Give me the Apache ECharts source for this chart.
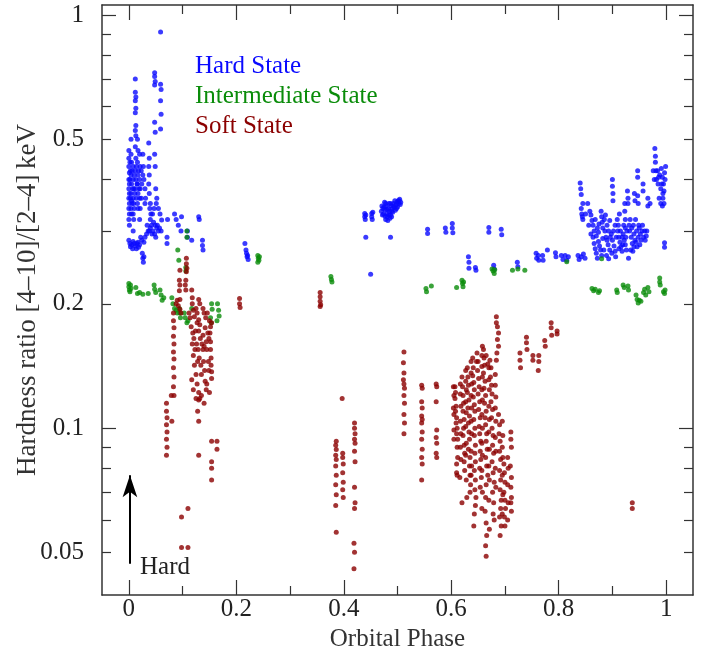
<!DOCTYPE html>
<html>
<head>
<meta charset="utf-8">
<script src="https://cdn.jsdelivr.net/npm/echarts@6/dist/echarts.min.js"></script>
<style>
html, body { margin: 0; padding: 0; background: #fff; }
#chart { width: 711px; height: 655px; }
</style>
</head>
<body>
<div id="chart"></div>
<script>
// hardness ratio vs orbital phase, three spectral states
var hardState = [
  [0.000,0.47],[0.000,0.45],[0.000,0.43],[0.001,0.415],[0.000,0.40],[0.001,0.39],[0.000,0.38],[0.001,0.37],[0.000,0.36],[0.001,0.35],[0.000,0.34],[0.001,0.33],[0.000,0.32],[0.001,0.31],
  [0.004,0.50],[0.004,0.46],[0.005,0.44],[0.004,0.41],[0.005,0.39],[0.004,0.37],[0.005,0.355],[0.004,0.34],[0.005,0.33],
  [0.008,0.43],[0.008,0.40],[0.009,0.38],[0.008,0.36],[0.009,0.35],[0.008,0.33],[0.009,0.32],[0.008,0.30],
  [0.012,0.70],[0.012,0.65],[0.013,0.633],[0.012,0.62],[0.013,0.595],[0.012,0.58],[0.013,0.54],[0.012,0.525],[0.013,0.51],[0.012,0.48],[0.013,0.45],[0.012,0.42],[0.013,0.40],[0.012,0.38],
  [0.016,0.50],[0.017,0.47],[0.016,0.44],[0.017,0.41],[0.016,0.39],[0.017,0.37],[0.016,0.35],[0.017,0.34],
  [0.020,0.46],[0.021,0.43],[0.020,0.40],[0.021,0.38],[0.020,0.36],[0.021,0.34],[0.020,0.32],
  [0.002,0.44],[0.003,0.42],[0.002,0.40],[0.003,0.36],[0.006,0.42],[0.007,0.38],[0.006,0.35],[0.010,0.41],[0.011,0.37],[0.010,0.34],[0.014,0.43],[0.015,0.39],[0.014,0.36],[0.018,0.42],[0.019,0.38],[0.023,0.42],[0.024,0.39],[0.023,0.36],
  [0.000,0.285],[0.002,0.280],[0.005,0.278],[0.008,0.283],[0.012,0.276],[0.015,0.280],[0.018,0.274],[0.024,0.285],[0.028,0.282],[0.030,0.290],[0.033,0.295],[0.036,0.300],[0.040,0.305],[0.042,0.310],[0.045,0.300],[0.048,0.295],[0.050,0.290],[0.052,0.305],[0.055,0.300],
  [0.003,0.275],[0.007,0.272],[0.010,0.280],[0.014,0.272],[0.017,0.282],[0.020,0.278],[0.022,0.290],[0.034,0.310],[0.038,0.300],[0.043,0.295],[0.046,0.315],[0.049,0.310],[0.053,0.310],[0.057,0.305],[0.044,0.330],[0.047,0.340],[0.051,0.350],
  [0.025,0.265],[0.026,0.258],[0.027,0.252],[0.028,0.260],
  [0.026,0.46],[0.027,0.43],[0.026,0.41],[0.028,0.40],[0.030,0.38],[0.031,0.36],[0.030,0.35],
  [0.037,0.49],[0.038,0.45],[0.037,0.43],[0.038,0.41],[0.037,0.39],[0.038,0.37],[0.040,0.35],[0.039,0.34],[0.041,0.33],[0.040,0.32],
  [0.048,0.725],[0.048,0.71],[0.049,0.69],[0.048,0.677],[0.048,0.55],[0.049,0.52],[0.048,0.46],[0.049,0.43],
  [0.059,0.91],[0.059,0.68],[0.060,0.66],[0.059,0.62],[0.060,0.575],[0.059,0.53],
  [0.050,0.38],[0.052,0.36],[0.055,0.34],[0.058,0.33],[0.060,0.30],
  [0.061,0.319],[0.072,0.32],[0.071,0.29],[0.071,0.28],[0.085,0.33],[0.088,0.32],[0.092,0.31],[0.097,0.30],[0.098,0.325],[0.109,0.30],[0.109,0.29],[0.117,0.285],[0.130,0.325],[0.131,0.32],[0.137,0.285],[0.137,0.277],[0.138,0.27],
  [0.216,0.28],[0.218,0.27],[0.219,0.265],[0.220,0.26],[0.222,0.256],[0.221,0.262],
  [0.439,0.331],[0.439,0.325],[0.440,0.32],[0.441,0.328],[0.452,0.331],[0.452,0.325],[0.453,0.32],[0.454,0.333],[0.441,0.29],[0.450,0.236],[0.487,0.29],
  [0.470,0.335],[0.471,0.345],[0.473,0.34],[0.474,0.33],[0.476,0.352],[0.477,0.338],[0.479,0.345],[0.480,0.33],[0.481,0.325],[0.483,0.34],[0.484,0.35],[0.485,0.335],[0.487,0.328],[0.488,0.345],[0.490,0.34],[0.491,0.333],[0.492,0.35],[0.494,0.342],[0.496,0.337],[0.497,0.347],[0.499,0.352],[0.500,0.343],[0.502,0.35],[0.503,0.355],[0.505,0.348],[0.478,0.32],[0.482,0.318],[0.486,0.322],
  [0.472,0.328],[0.475,0.343],[0.478,0.35],[0.481,0.338],[0.484,0.328],[0.487,0.35],[0.489,0.335],[0.493,0.345],[0.495,0.355],[0.498,0.34],[0.501,0.355],[0.504,0.358],[0.506,0.352],[0.477,0.326],[0.489,0.325],
  [0.556,0.303],[0.556,0.296],[0.589,0.305],[0.590,0.298],[0.602,0.313],[0.602,0.305],[0.603,0.297],[0.670,0.306],[0.670,0.298],[0.693,0.303],[0.694,0.294],
  [0.632,0.26],[0.633,0.252],[0.633,0.244],[0.645,0.245],[0.646,0.241],[0.679,0.248],[0.680,0.243],[0.723,0.252],[0.724,0.246],
  [0.758,0.265],[0.759,0.258],[0.762,0.262],[0.763,0.255],[0.770,0.262],[0.771,0.255],[0.779,0.27],[0.794,0.266],[0.795,0.26],[0.805,0.262],[0.808,0.256],[0.812,0.262],[0.815,0.255],[0.818,0.26],
  [0.836,0.262],[0.838,0.256],[0.842,0.26],[0.846,0.264],[0.849,0.258],
  [0.840,0.392],[0.841,0.38],[0.842,0.368],[0.843,0.33],[0.844,0.325],[0.845,0.32],[0.842,0.34],[0.854,0.35],
  [0.858,0.335],[0.860,0.328],[0.862,0.318],[0.864,0.31],[0.868,0.32],[0.872,0.305],[0.875,0.312],
  [0.864,0.29],[0.866,0.28],[0.868,0.272],[0.870,0.265],[0.872,0.258],[0.874,0.283],[0.876,0.276],[0.878,0.27],[0.880,0.262],[0.882,0.288],
  [0.879,0.335],[0.880,0.325],[0.881,0.315],[0.882,0.305],
  [0.886,0.30],[0.888,0.29],[0.890,0.285],[0.892,0.278],[0.895,0.27],[0.898,0.295],[0.900,0.285],[0.903,0.276],[0.905,0.268],[0.907,0.29],[0.890,0.31],[0.895,0.318],
  [0.900,0.40],[0.900,0.385],[0.901,0.37],[0.901,0.355],
  [0.910,0.30],[0.912,0.29],[0.914,0.282],[0.916,0.275],[0.918,0.268],[0.920,0.295],[0.922,0.285],[0.924,0.278],[0.926,0.27],
  [0.923,0.35],[0.923,0.335],[0.924,0.32],[0.924,0.305],[0.928,0.375],[0.929,0.36],[0.929,0.35],[0.930,0.258],
  [0.932,0.30],[0.935,0.29],[0.937,0.28],[0.940,0.295],[0.942,0.285],[0.945,0.30],[0.948,0.29],[0.950,0.305],[0.952,0.295],[0.955,0.30],[0.958,0.29],[0.960,0.30],[0.963,0.292],[0.940,0.275],[0.946,0.275],
  [0.845,0.35],[0.850,0.33],[0.856,0.31],[0.860,0.295],[0.866,0.30],[0.870,0.292],[0.874,0.298],[0.885,0.32],[0.887,0.328],[0.893,0.30],[0.896,0.29],[0.902,0.30],[0.905,0.31],[0.909,0.32],[0.911,0.31],[0.913,0.33],[0.915,0.30],[0.918,0.29],[0.921,0.31],[0.925,0.29],[0.927,0.30],[0.931,0.31],[0.933,0.32],[0.936,0.305],[0.939,0.31],[0.943,0.32],[0.949,0.31],[0.953,0.285],[0.956,0.31],[0.961,0.285],[0.964,0.30],
  [0.934,0.27],[0.938,0.268],[0.944,0.282],[0.951,0.278],[0.884,0.27],[0.889,0.262],[0.893,0.257],[0.899,0.265],[0.906,0.26],[0.912,0.272],[0.919,0.278],
  [0.941,0.37],[0.942,0.355],[0.947,0.365],[0.948,0.35],[0.947,0.42],[0.947,0.405],[0.957,0.39],[0.957,0.375],[0.966,0.36],[0.966,0.345],[0.970,0.35],
  [0.979,0.475],[0.980,0.455],[0.980,0.44],[0.981,0.42],[0.982,0.40],[0.985,0.39],[0.988,0.41],[0.990,0.38],
  [0.991,0.425],[0.993,0.405],[0.995,0.39],[0.996,0.375],[0.997,0.415],[0.990,0.35],[0.993,0.345],[0.996,0.35],[0.997,0.281],[0.997,0.274],
  [0.976,0.42],[0.978,0.40],[0.984,0.42],[0.986,0.405],[0.992,0.39],[0.994,0.37],[0.998,0.40],[0.999,0.43],[0.987,0.36],[0.994,0.36]
];

var intermediateState = [
  [0.000,0.224],[0.000,0.220],[0.001,0.216],[0.002,0.214],[0.003,0.222],[0.004,0.218],[0.013,0.219],[0.016,0.212],[0.020,0.213],[0.026,0.211],[0.036,0.212],[0.047,0.222],[0.048,0.217],[0.050,0.213],
  [0.058,0.216],[0.060,0.210],[0.062,0.204],[0.065,0.207],
  [0.080,0.207],[0.082,0.200],[0.085,0.195],[0.088,0.193],[0.090,0.190],[0.094,0.195],[0.095,0.190],[0.096,0.185],
  [0.103,0.190],[0.105,0.185],[0.108,0.180],[0.110,0.182],[0.091,0.270],[0.093,0.255],[0.108,0.300],[0.108,0.290],[0.106,0.245],[0.106,0.240],[0.117,0.195],
  [0.154,0.200],[0.155,0.194],[0.152,0.185],[0.153,0.180],[0.165,0.200],[0.167,0.193],[0.168,0.187],[0.164,0.182],
  [0.240,0.262],[0.241,0.258],[0.242,0.255],[0.240,0.252],[0.243,0.260],
  [0.376,0.233],[0.377,0.229],[0.378,0.226],
  [0.553,0.218],[0.554,0.214],[0.563,0.221],[0.610,0.219],[0.620,0.228],[0.621,0.224],[0.622,0.220],[0.623,0.226],
  [0.676,0.243],[0.678,0.240],[0.680,0.237],[0.681,0.242],[0.714,0.241],[0.724,0.243],[0.737,0.241],
  [0.815,0.253],[0.880,0.257],
  [0.862,0.218],[0.865,0.215],[0.868,0.217],[0.874,0.213],[0.876,0.215],[0.908,0.216],[0.909,0.213],[0.920,0.222],[0.922,0.219],[0.929,0.221],[0.930,0.216],
  [0.944,0.210],[0.946,0.205],[0.948,0.201],[0.950,0.204],[0.953,0.203],[0.958,0.213],[0.960,0.217],[0.962,0.210],[0.966,0.219],[0.968,0.214],
  [0.988,0.231],[0.988,0.226],[0.989,0.222],[0.997,0.212],[0.995,0.214],[0.998,0.216]
];

var softState = [
  [0.107,0.258],[0.107,0.250],[0.108,0.244],[0.107,0.239],[0.106,0.228],[0.105,0.222],[0.106,0.216],
  [0.095,0.241],[0.094,0.228],[0.095,0.222],[0.094,0.215],[0.095,0.205],[0.117,0.216],
  [0.090,0.204],[0.092,0.198],[0.095,0.194],[0.097,0.190],[0.088,0.200],[0.118,0.207],[0.130,0.205],[0.132,0.200],
  [0.118,0.200],[0.120,0.193],[0.122,0.186],[0.125,0.195],[0.127,0.190],[0.130,0.183],[0.132,0.178],
  [0.127,0.180],[0.130,0.172],[0.133,0.165],[0.136,0.160],[0.138,0.168],[0.140,0.158],[0.142,0.175],[0.144,0.162],[0.145,0.155],
  [0.138,0.195],[0.140,0.190],[0.143,0.185],[0.146,0.190],[0.150,0.182],[0.152,0.176],[0.154,0.180],
  [0.151,0.170],[0.152,0.162],[0.152,0.155],[0.153,0.148],[0.153,0.142],[0.154,0.137],[0.154,0.132],
  [0.112,0.190],[0.114,0.185],[0.116,0.176],[0.119,0.170],[0.121,0.165],[0.124,0.172],[0.126,0.160],[0.129,0.155],[0.131,0.148],[0.134,0.142],[0.135,0.135],[0.125,0.118],[0.128,0.110],[0.135,0.120],[0.140,0.115],[0.147,0.170],[0.149,0.165],[0.148,0.145],[0.149,0.138],
  [0.083,0.190],[0.083,0.182],[0.084,0.175],[0.083,0.167],[0.084,0.160],[0.083,0.153],[0.084,0.147],[0.083,0.140],[0.084,0.133],[0.083,0.126],[0.084,0.120],
  [0.118,0.160],[0.120,0.150],[0.122,0.142],[0.125,0.135],[0.127,0.128],[0.130,0.122],[0.132,0.118],[0.123,0.155],[0.128,0.145],
  [0.138,0.155],[0.139,0.145],[0.141,0.138],[0.142,0.130],[0.144,0.124],
  [0.070,0.115],[0.070,0.110],[0.071,0.106],[0.070,0.102],[0.071,0.098],[0.070,0.094],[0.071,0.090],[0.070,0.086],[0.079,0.120],[0.080,0.104],
  [0.098,0.061],[0.110,0.064],[0.098,0.0515],[0.110,0.0515],
  [0.117,0.131],[0.120,0.124],[0.130,0.117],[0.130,0.104],[0.130,0.086],[0.145,0.128],[0.150,0.122],
  [0.154,0.093],[0.164,0.093],[0.164,0.089],[0.154,0.083],[0.154,0.080],[0.154,0.075],
  [0.206,0.206],[0.206,0.200],[0.207,0.196],
  [0.356,0.213],[0.356,0.208],[0.356,0.203],[0.357,0.199],[0.356,0.197],
  [0.397,0.118],
  [0.386,0.093],[0.385,0.091],[0.386,0.0888],[0.385,0.086],[0.386,0.084],[0.385,0.081],[0.386,0.077],[0.385,0.073],[0.386,0.069],[0.385,0.065],[0.386,0.056],
  [0.398,0.087],[0.398,0.085],[0.399,0.082],[0.398,0.078],[0.399,0.074],[0.398,0.071],[0.399,0.068],
  [0.420,0.103],[0.420,0.100],[0.421,0.097],[0.420,0.094],[0.421,0.092],[0.420,0.088],[0.421,0.083],[0.420,0.072],[0.421,0.066],[0.420,0.064],[0.419,0.0527],[0.420,0.0501],[0.419,0.0457],
  [0.512,0.153],[0.511,0.144],[0.512,0.136],[0.511,0.131],[0.512,0.128],[0.513,0.125],[0.512,0.120],[0.513,0.115],[0.512,0.108],[0.513,0.103],[0.512,0.097],
  [0.545,0.127],[0.546,0.125],[0.545,0.116],[0.546,0.112],[0.545,0.107],[0.546,0.105],[0.545,0.103],[0.546,0.098],[0.545,0.094],[0.546,0.089],[0.545,0.085],[0.546,0.082],[0.545,0.075],
  [0.572,0.128],[0.573,0.126],[0.572,0.116],[0.573,0.099],[0.572,0.095],[0.573,0.092],[0.572,0.087],[0.573,0.085],
  [0.607,0.126],[0.608,0.122],[0.607,0.118],[0.609,0.113],[0.608,0.110],[0.610,0.106],[0.609,0.103],[0.611,0.100],[0.610,0.097],[0.612,0.094],[0.611,0.090],[0.612,0.085],[0.610,0.082],[0.611,0.077],
  [0.604,0.126],[0.605,0.120],[0.604,0.112],[0.605,0.108],[0.605,0.099],[0.605,0.094],[0.610,0.078],
  [0.620,0.133],[0.621,0.126],[0.622,0.120],[0.623,0.115],[0.622,0.110],[0.624,0.105],[0.623,0.100],[0.622,0.096],[0.624,0.091],[0.625,0.087],[0.624,0.083],[0.625,0.079],[0.620,0.066],
  [0.617,0.128],[0.617,0.121],[0.618,0.113],[0.617,0.104],[0.618,0.097],[0.617,0.090],[0.618,0.084],[0.616,0.076],
  [0.627,0.138],[0.627,0.130],[0.628,0.124],[0.627,0.116],[0.628,0.109],[0.627,0.101],[0.628,0.092],[0.627,0.086],[0.628,0.075],[0.629,0.068],
  [0.630,0.140],[0.631,0.133],[0.632,0.127],[0.630,0.122],[0.633,0.117],[0.631,0.112],[0.634,0.107],[0.632,0.103],[0.633,0.098],[0.634,0.094],[0.632,0.089],[0.635,0.085],[0.634,0.081],[0.635,0.077],[0.636,0.073],[0.635,0.070],
  [0.637,0.145],[0.637,0.136],[0.638,0.128],[0.637,0.120],[0.638,0.112],[0.637,0.104],[0.638,0.097],[0.637,0.088],[0.638,0.081],[0.637,0.077],
  [0.640,0.148],[0.641,0.140],[0.640,0.134],[0.642,0.129],[0.643,0.124],[0.641,0.119],[0.643,0.114],[0.644,0.110],[0.642,0.105],[0.644,0.100],[0.643,0.096],[0.645,0.091],[0.644,0.087],[0.645,0.083],[0.643,0.079],[0.645,0.075],[0.644,0.071],[0.646,0.068],[0.645,0.065],[0.643,0.062],[0.642,0.058],
  [0.648,0.152],[0.650,0.145],[0.649,0.138],[0.651,0.132],[0.652,0.126],[0.650,0.121],[0.653,0.116],[0.651,0.111],[0.654,0.106],[0.652,0.101],[0.653,0.097],[0.655,0.093],[0.654,0.088],[0.655,0.084],[0.653,0.080],[0.656,0.076],[0.654,0.072],
  [0.657,0.150],[0.657,0.141],[0.658,0.133],[0.657,0.124],[0.658,0.117],[0.657,0.108],[0.658,0.100],[0.657,0.092],[0.658,0.086],[0.657,0.079],[0.658,0.070],[0.657,0.064],
  [0.660,0.155],[0.661,0.148],[0.662,0.142],[0.660,0.136],[0.663,0.130],[0.661,0.125],[0.664,0.120],[0.662,0.115],[0.665,0.110],[0.663,0.106],[0.664,0.102],[0.666,0.097],[0.665,0.093],[0.667,0.089],[0.664,0.085],[0.666,0.081],[0.668,0.077],[0.665,0.073],[0.664,0.068],[0.663,0.063],[0.665,0.059],[0.666,0.055],[0.664,0.052],[0.665,0.049],
  [0.670,0.140],[0.670,0.131],[0.671,0.124],[0.670,0.113],[0.671,0.105],[0.670,0.098],[0.671,0.089],[0.670,0.081],[0.671,0.075],[0.670,0.067],[0.671,0.057],
  [0.672,0.146],[0.674,0.140],[0.673,0.133],[0.675,0.127],[0.676,0.121],[0.674,0.116],[0.677,0.111],[0.675,0.106],[0.676,0.100],[0.678,0.096],[0.677,0.091],[0.679,0.087],[0.676,0.083],[0.678,0.078],[0.680,0.074],[0.677,0.070],[0.679,0.066],[0.678,0.062],[0.680,0.060],
  [0.682,0.135],[0.682,0.127],[0.683,0.119],[0.682,0.112],[0.683,0.104],[0.682,0.095],[0.683,0.088],[0.682,0.080],[0.683,0.072],
  [0.684,0.186],[0.684,0.180],[0.686,0.176],[0.688,0.170],[0.686,0.164],[0.688,0.158],[0.685,0.152],[0.684,0.146],
  [0.688,0.108],[0.690,0.102],[0.689,0.097],[0.691,0.093],[0.690,0.088],[0.692,0.084],[0.690,0.079],[0.692,0.075],[0.691,0.071],[0.693,0.067],[0.692,0.064],[0.690,0.061],[0.693,0.058],[0.691,0.055],
  [0.695,0.104],[0.696,0.096],[0.695,0.090],[0.696,0.085],[0.695,0.077],[0.696,0.069],[0.695,0.062],
  [0.698,0.082],[0.699,0.078],[0.700,0.074],[0.698,0.070],[0.700,0.067],[0.701,0.064],[0.699,0.061],[0.700,0.058],
  [0.705,0.085],[0.706,0.080],[0.705,0.073],[0.706,0.066],[0.705,0.060],
  [0.711,0.098],[0.711,0.094],[0.712,0.090],[0.710,0.081],[0.712,0.076],[0.711,0.072],[0.712,0.068],[0.711,0.066],[0.712,0.063],
  [0.647,0.145],[0.658,0.158],[0.665,0.150],[0.668,0.143],
  [0.728,0.152],[0.728,0.146],[0.729,0.140],[0.740,0.166],[0.740,0.161],[0.741,0.155],[0.752,0.150],[0.752,0.146],[0.763,0.150],[0.763,0.145],[0.762,0.138],
  [0.774,0.163],[0.775,0.158],[0.786,0.180],[0.786,0.175],[0.787,0.168],[0.797,0.172],[0.797,0.169],
  [0.937,0.066],[0.937,0.064]
];

var xMajorTicks = [0, 0.2, 0.4, 0.6, 0.8, 1];
var xMinorTicks = [0.1, 0.3, 0.5, 0.7, 0.9];
var yDecadeTicks = [0.1, 1];
var yMinorTicks = [0.05, 0.06, 0.07, 0.08, 0.09, 0.2, 0.3, 0.4, 0.5, 0.6, 0.7, 0.8, 0.9];
var yLabels = [0.05, 0.1, 0.2, 0.5, 1];
var arrowFrom = [0.002, 0.047];
var arrowTo = [0.002, 0.077];

var SERIF = '"Liberation Serif", "DejaVu Serif", serif';
var AXIS = '#333';
var BLUE = '#0a0aff', GREEN = '#0a8c0a', RED = '#8b0000';

function fmt(v) { return String(Math.round(v * 1000) / 1000); }

function xAxisOf(grid, pos, ticks, len, main) {
  return {
    gridIndex: grid, type: 'value', position: pos, min: -0.05, max: 1.05,
    axisLine: { show: main, onZero: false, lineStyle: { color: AXIS, width: 1.5 } },
    axisTick: { show: true, inside: true, length: len, customValues: ticks, lineStyle: { color: AXIS, width: 1.2 } },
    axisLabel: { show: false },
    splitLine: { show: false }
  };
}
function yAxisOf(grid, pos, ticks, len, main) {
  return {
    gridIndex: grid, type: 'log', logBase: 10, position: pos, min: 0.0395, max: 1.057,
    axisLine: { show: main, onZero: false, lineStyle: { color: AXIS, width: 1.5 } },
    axisTick: { show: true, inside: true, length: len, customValues: ticks, lineStyle: { color: AXIS, width: 1.2 } },
    axisLabel: { show: false },
    splitLine: { show: false }
  };
}

var xBottom = xAxisOf(0, 'bottom', xMajorTicks, 15, true);
xBottom.axisLabel = { show: true, customValues: xMajorTicks, formatter: fmt, margin: 2, fontFamily: SERIF, fontSize: 25, color: '#222' };
xBottom.name = 'Orbital Phase';
xBottom.nameLocation = 'middle';
xBottom.nameGap = 26;
xBottom.nameTextStyle = { fontFamily: SERIF, fontSize: 25, color: '#333' };

var yLeft = yAxisOf(0, 'left', yDecadeTicks, 14, true);
yLeft.axisLabel = { show: true, customValues: yLabels, formatter: fmt, margin: 18, fontFamily: SERIF, fontSize: 25, color: '#222' };
yLeft.name = 'Hardness ratio [4\u201310]/[2\u20134]\u2009keV';
yLeft.nameLocation = 'middle';
yLeft.nameGap = 61;
yLeft.nameMoveOverlap = false;
yLeft.nameTextStyle = { fontFamily: SERIF, fontSize: 27, color: '#333' };

var chart = echarts.init(document.getElementById('chart'), null, { renderer: 'canvas' });
chart.setOption({
  animation: false,
  backgroundColor: '#fff',
  grid: [
    { left: 102, right: 18, top: 5, bottom: 60, outerBoundsMode: 'none' },
    { left: 102, right: 18, top: 5, bottom: 60, outerBoundsMode: 'none' }
  ],
  xAxis: [
    xBottom,
    xAxisOf(0, 'top', xMajorTicks, 15, true),
    xAxisOf(1, 'bottom', xMinorTicks, 9, false),
    xAxisOf(1, 'top', xMinorTicks, 9, false)
  ],
  yAxis: [
    yLeft,
    yAxisOf(0, 'right', yDecadeTicks, 14, true),
    yAxisOf(1, 'left', yMinorTicks, 9, false),
    yAxisOf(1, 'right', yMinorTicks, 9, false)
  ],
  legend: {
    left: 185, top: 49, orient: 'vertical', itemGap: 5, itemWidth: 0, itemHeight: 22,
    selectedMode: false,
    textStyle: { fontFamily: SERIF, fontSize: 25 },
    data: [
      { name: 'Hard State', icon: 'none', textStyle: { color: BLUE } },
      { name: 'Intermediate State', icon: 'none', textStyle: { color: GREEN } },
      { name: 'Soft State', icon: 'none', textStyle: { color: RED } }
    ]
  },
  graphic: [
    { type: 'text', left: 140, top: 555, style: { text: 'Hard', font: '25px "Liberation Serif"', fill: '#222' } }
  ],
  series: [
    { name: 'Hard State', type: 'scatter', xAxisIndex: 0, yAxisIndex: 0, symbolSize: 5, itemStyle: { color: BLUE }, data: hardState },
    { name: 'Intermediate State', type: 'scatter', xAxisIndex: 0, yAxisIndex: 0, symbolSize: 5, itemStyle: { color: GREEN }, data: intermediateState },
    { name: 'Soft State', type: 'scatter', xAxisIndex: 0, yAxisIndex: 0, symbolSize: 5, itemStyle: { color: RED }, data: softState,
      markLine: {
        silent: true, animation: false, symbol: ['none', 'arrow'], symbolSize: [11, 22],
        lineStyle: { color: '#000', width: 2, type: 'solid' }, label: { show: false },
        data: [[{ coord: arrowFrom }, { coord: arrowTo }]]
      }
    }
  ]
});
</script>
</body>
</html>
